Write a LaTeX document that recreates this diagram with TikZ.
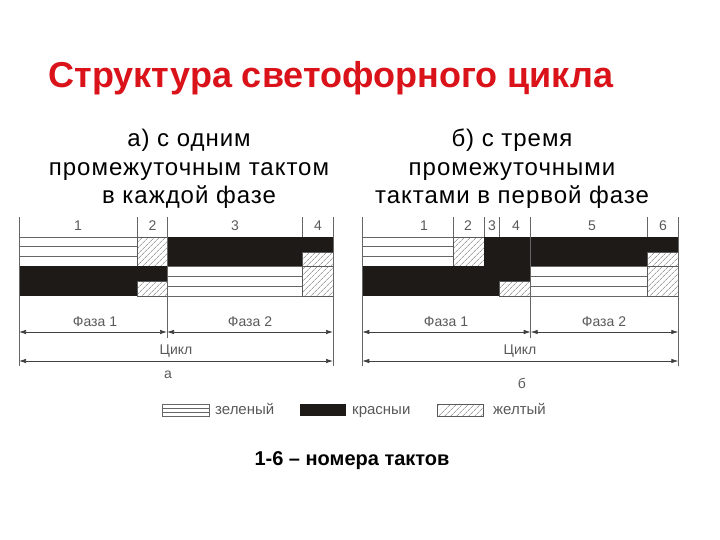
\documentclass[tikz,border=0pt]{standalone}
\usepackage{fontspec}
\setmainfont{Liberation Sans}
\usetikzlibrary{positioning, arrows.meta, calc, patterns.meta}

\definecolor{titlered}{RGB}{218,18,26}
\definecolor{barblack}{RGB}{30,26,24}

\tikzset{
  redbar/.style={fill=barblack},
  yellowbar/.style={draw=black!65, line width=0.6pt, preaction={fill=white}, pattern={Lines[angle=45,distance=4pt,line width=0.5pt]}, pattern color=black!55},
  grid/.style={draw=black!60, line width=0.6pt},
  lbl/.style={text=black!65, font=\fontsize{14}{16}\selectfont, inner sep=1pt},
  key/.style={text=black!65, font=\fontsize{15}{18}\selectfont, inner sep=1pt, anchor=base west},
  dim/.style={draw=black!75, line width=0.7pt, {Latex[length=7pt,width=4.5pt]}-{Latex[length=7pt,width=4.5pt]}},
  head/.style={align=center, font=\fontsize{24}{28.5}\selectfont\addfontfeatures{LetterSpace=4}},
}

% green band: white with two inner lines
\newcommand{\greenbar}[4]{%
  \draw[grid] (#1,#2) rectangle (#3,#4);
  \draw[grid] (#1,{#2+(#4-#2)/3}) -- (#3,{#2+(#4-#2)/3});
  \draw[grid] (#1,{#2+2*(#4-#2)/3}) -- (#3,{#2+2*(#4-#2)/3});}

\begin{document}
\begin{tikzpicture}[x=1pt, y=-1pt]
\useasboundingbox (0,0) rectangle (720,540);

\node[text=titlered, font=\fontsize{36}{40}\selectfont\bfseries] (title) at (331,78) {Структура светофорного цикла};
\node[head] (capA) at (189,169) {а) с одним\\промежуточным тактом\\в каждой фазе};
\node[head] (capB) at (512,169) {б) с тремя\\промежуточными\\тактами в первой фазе};

% ---- diagram a ----
% top signal
\greenbar{19}{237}{137.7}{266}
\draw[yellowbar] (137.7,237) rectangle (167,266);
\fill[redbar] (167,237) rectangle (333,266);
\draw[yellowbar] (302.7,252.5) rectangle (333,266);
% bottom signal
\fill[redbar] (19,266) rectangle (167,296);
\draw[yellowbar] (137.7,281.5) rectangle (167,296);
\greenbar{167}{266}{302.7}{296}
\draw[yellowbar] (302.7,266) rectangle (333,296);
% frame lines
\draw[grid] (19,217) -- (19,366);
\draw[grid] (333,217) -- (333,366);
\draw[grid] (167,217) -- (167,338);
\draw[grid] (137.7,217) -- (137.7,237);
\draw[grid] (302.7,217) -- (302.7,237);
\node[lbl] (a1) at (78,226) {1};
\node[lbl] (a2) at (152.4,226) {2};
\node[lbl] (a3) at (235,226) {3};
\node[lbl] (a4) at (317.9,226) {4};
% dimensions
\coordinate (aF0) at (19,332);
\coordinate (aF1) at (167,332);
\coordinate (aF2) at (333,332);
\coordinate (aC0) at (19,361);
\coordinate (aC1) at (333,361);
\draw[dim] (aF0) -- (aF1);
\draw[dim] (aF1) -- (aF2);
\draw[dim] (aC0) -- (aC1);
\node[lbl] (aPh1) at (95,322) {Фаза 1};
\node[lbl] (aPh2) at (250,322) {Фаза 2};
\node[lbl] (aCyc) at (176,351) {Цикл};
\node[lbl] (aTag) at (168,375) {а};

% ---- diagram b ----
% top signal
\greenbar{362.3}{237}{453.7}{266}
\draw[yellowbar] (453.7,237) rectangle (484.3,266);
\fill[redbar] (484.3,237) rectangle (678.3,266);
\draw[yellowbar] (647.7,252.5) rectangle (678.3,266);
% bottom signal
\fill[redbar] (362.3,266) rectangle (530.7,296);
\draw[yellowbar] (499.3,281.5) rectangle (530.7,296);
\greenbar{530.7}{266}{647.7}{296}
\draw[yellowbar] (647.7,266) rectangle (678.3,296);
% frame lines
\draw[grid] (362.3,217) -- (362.3,366);
\draw[grid] (678.3,217) -- (678.3,366);
\draw[grid] (530.7,217) -- (530.7,338);
\draw[grid] (453.7,217) -- (453.7,237);
\draw[grid] (484.3,217) -- (484.3,237);
\draw[grid] (499.3,217) -- (499.3,237);
\draw[grid] (647.7,217) -- (647.7,237);
\node[lbl] (b1) at (424,226) {1};
\node[lbl] (b2) at (468,226) {2};
\node[lbl] (b3) at (492,226) {3};
\node[lbl] (b4) at (516,226) {4};
\node[lbl] (b5) at (592,226) {5};
\node[lbl] (b6) at (663,226) {6};
% dimensions
\coordinate (bF0) at (362.3,332);
\coordinate (bF1) at (530.7,332);
\coordinate (bF2) at (678.3,332);
\coordinate (bC0) at (362.3,361);
\coordinate (bC1) at (678.3,361);
\draw[dim] (bF0) -- (bF1);
\draw[dim] (bF1) -- (bF2);
\draw[dim] (bC0) -- (bC1);
\node[lbl] (bPh1) at (446,322) {Фаза 1};
\node[lbl] (bPh2) at (604,322) {Фаза 2};
\node[lbl] (bCyc) at (520,351) {Цикл};
\node[lbl] (bTag) at (522,383) {б};

% ---- legend ----
\greenbar{162}{404}{209}{416}
\node[key] (kGreen) at (214,414) {зеленый};
\fill[redbar] (300,404) rectangle (346,416);
\node[key] (kRed) at (351,414) {красныи};
\draw[yellowbar] (437,404) rectangle (483,416);
\node[key] (kYellow) at (492,414) {желтый};

\node[font=\fontsize{20}{24}\selectfont\bfseries] (note) at (352,461) {1-6 – номера тактов};
\end{tikzpicture}
\end{document}
